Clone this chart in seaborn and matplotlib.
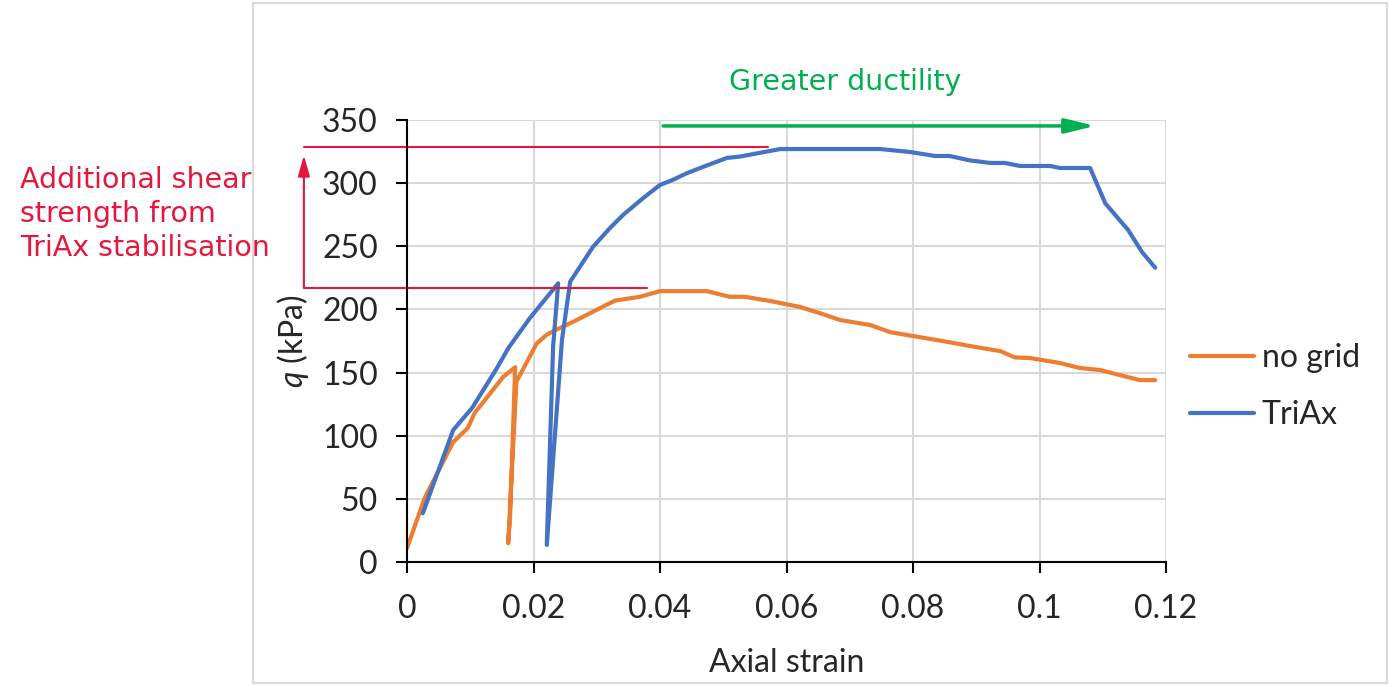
import pandas as pd
import matplotlib.pyplot as plt
import seaborn as sns
from matplotlib.ticker import FuncFormatter

# ---------------------------
# Data
# ---------------------------
nogrid_strain = [0.0, 0.0028, 0.0073, 0.0096, 0.0107, 0.0152, 0.0171, 0.0163, 0.0160,
                 0.0173, 0.0205, 0.0221, 0.0236, 0.0262, 0.0305, 0.0329, 0.0368, 0.0400,
                 0.0474, 0.0510, 0.0534, 0.0574, 0.0621, 0.0653, 0.0685, 0.0732, 0.0764,
                 0.0811, 0.0858, 0.0890, 0.0938, 0.0961, 0.0985, 0.1032, 0.1064, 0.1096,
                 0.1135, 0.1159, 0.1183]
nogrid_q = [11, 50.7, 95, 106, 118, 146.5, 154.2, 36, 14.8,
            142.8, 173, 180, 184, 190, 201, 207, 210, 214.5,
            214.5, 210, 210, 206.7, 202, 197, 191.6, 187.7, 182,
            178, 174, 171, 167, 162, 161.5, 157.6, 153.6, 152,
            147, 144, 144]

triax_strain = [0.0025, 0.0073, 0.0103, 0.0142, 0.0160, 0.0194, 0.0239, 0.0231, 0.0221,
                0.0245, 0.0258, 0.0294, 0.0321, 0.0342, 0.0373, 0.0400, 0.0420, 0.0443,
                0.0474, 0.0506, 0.0526, 0.0590, 0.0606, 0.0748, 0.0795, 0.0835, 0.0858,
                0.0890, 0.0922, 0.0945, 0.0969, 0.1017, 0.1032, 0.1080, 0.1104, 0.1140,
                0.1162, 0.1183]
triax_q = [38.6, 104.5, 122, 153.4, 169.2, 193, 220.7, 170.5, 13.5,
           175.8, 222, 249.5, 264.5, 275, 288, 298.6, 302.5, 308,
           314, 320, 321, 327, 327, 327, 324.7, 321.5, 321.5,
           318, 316, 316, 313.6, 313.6, 312, 312, 284, 263,
           245.5, 233]

series_names = ["no grid", "TriAx"]
colors = {"no grid": "#ED7D31", "TriAx": "#4472C4"}

x_ticks = [0, 0.02, 0.04, 0.06, 0.08, 0.1, 0.12]
y_ticks = [0, 50, 100, 150, 200, 250, 300, 350]

# annotation levels
peak_nogrid_line = 217.2
peak_triax_line = 328.7

df = pd.concat([
    pd.DataFrame({"strain": nogrid_strain, "q": nogrid_q, "series": "no grid"}),
    pd.DataFrame({"strain": triax_strain, "q": triax_q, "series": "TriAx"}),
], ignore_index=True)

sns.set_style("white")
plt.rcParams["font.family"] = ["Lato", "DejaVu Sans"]
plt.rcParams["mathtext.fontset"] = "custom"
plt.rcParams["mathtext.it"] = "Lato:italic"
plt.rcParams["mathtext.rm"] = "Lato"

fig = plt.figure(figsize=(13.89, 6.85), dpi=100)
ax = fig.add_axes([407 / 1389, 1 - 562 / 685, 759 / 1389, 442 / 685])

sns.lineplot(data=df, x="strain", y="q", hue="series", hue_order=series_names,
             palette=colors, sort=False, estimator=None, lw=3, ax=ax)

ax.set_xlim(0, 0.12)
ax.set_ylim(0, 350)
ax.set_xticks(x_ticks)
ax.set_yticks(y_ticks)
ax.xaxis.set_major_formatter(FuncFormatter(lambda v, p: f"{v:g}"))
ax.grid(True, color="#D9D9D9", lw=1.5)
ax.set_axisbelow(True)
for s in ["top", "right"]:
    ax.spines[s].set_visible(False)
for s in ["left", "bottom"]:
    ax.spines[s].set_color("black")
    ax.spines[s].set_linewidth(1.5)
ax.tick_params(axis="y", direction="out", length=8, width=1.5, color="black",
               labelsize=23, pad=13, left=True)
ax.tick_params(axis="x", direction="out", length=8, width=1.5, color="black",
               labelsize=23, pad=15, bottom=True)

ax.set_xlabel("Axial strain", fontsize=23, labelpad=17)
ax.set_ylabel(r"$q$ (kPa)", fontsize=23, labelpad=8)

ax.legend(loc="center left", bbox_to_anchor=(1.0316, 0.397), frameon=False,
          fontsize=23, handlelength=2.0, handletextpad=0.25, labelspacing=0.85,
          borderaxespad=0, borderpad=0)

# red annotation: additional shear strength
red = "#E4173E"
ax.plot([-0.0163, 0.0571], [peak_triax_line, peak_triax_line], color=red, lw=1.5, clip_on=False)
ax.plot([-0.0163, 0.0380], [peak_nogrid_line, peak_nogrid_line], color=red, lw=1.5, clip_on=False)
ax.annotate("", xy=(-0.0163, 322), xytext=(-0.0163, peak_nogrid_line),
            arrowprops=dict(arrowstyle="-|>,head_length=0.7,head_width=0.2",
                            color=red, lw=1.5, mutation_scale=18, shrinkA=0, shrinkB=0),
            annotation_clip=False)
fig.text(20 / 1389, 1 - 166 / 685, "Additional shear\nstrength from\nTriAx stabilisation",
         color=red, fontsize=20.5, family="DejaVu Sans", ha="left", va="top",
         linespacing=1.27)

# green annotation: greater ductility
green = "#00B050"
ax.annotate("", xy=(0.1088, 345.3), xytext=(0.0405, 345.3),
            arrowprops=dict(arrowstyle="-|>,head_length=0.9,head_width=0.22",
                            color=green, lw=2.5, mutation_scale=20, shrinkA=0, shrinkB=0),
            annotation_clip=False)
fig.text(845 / 1389, 1 - 82 / 685, "Greater ductility", color=green, fontsize=20.5,
         family="DejaVu Sans", ha="center", va="center")

# light chart border
fig.patches.append(plt.Rectangle((253 / 1389, 2 / 685), 1134 / 1389, 680 / 685,
                                 transform=fig.transFigure, fill=False,
                                 edgecolor="#D9D9D9", lw=1.5))

plt.savefig("out.png", dpi=100)
